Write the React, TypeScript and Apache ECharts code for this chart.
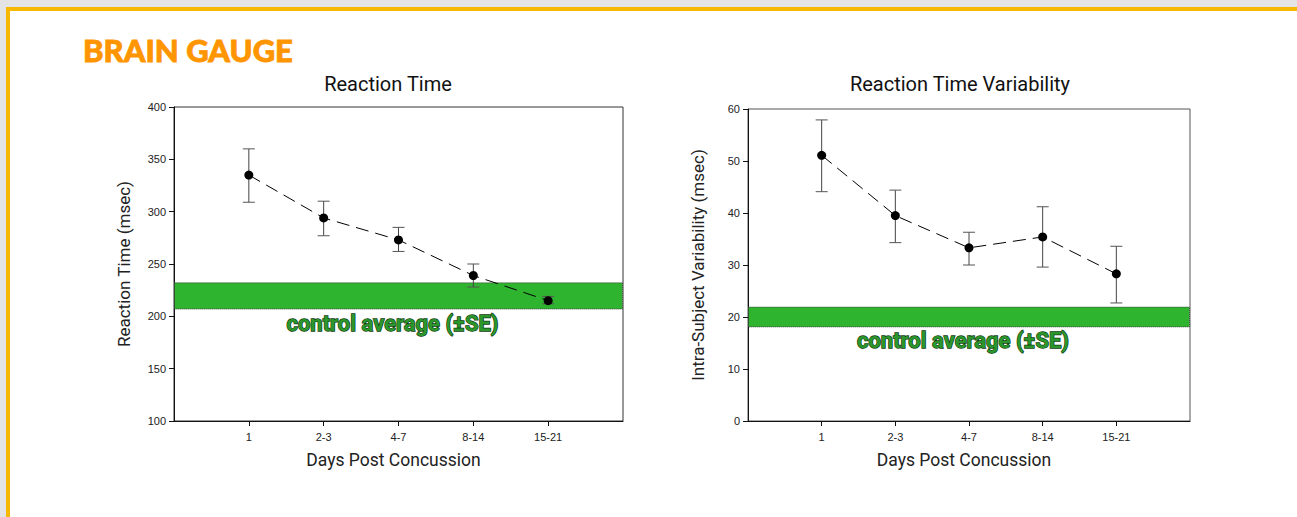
import React, { useEffect, useRef } from "react";
import * as echarts from "echarts";

const categories = ["1", "2-3", "4-7", "8-14", "15-21"];
const categoryPositions = [1, 2, 3, 4, 5];

const rtMean = [335, 294, 273, 239, 215];
const rtLow = [309, 277, 262, 228, 212];
const rtHigh = [360, 310, 285, 250, 219];
const rtControl = [207, 232];

const rtvMean = [51.1, 39.5, 33.3, 35.4, 28.3];
const rtvLow = [44.1, 34.3, 30.0, 29.6, 22.7];
const rtvHigh = [57.9, 44.4, 36.3, 41.2, 33.6];
const rtvControl = [18.1, 21.9];

const controlLabel = "control average (\u00b1SE)";

function buildErrorBars(low: number[], high: number[]) {
  return categoryPositions.map((x, i) => [x, low[i], high[i]]);
}
function buildLine(mean: number[]) {
  return categoryPositions.map((x, i) => [x, mean[i]]);
}

const errorRender = (params: any, api: any) => {
  const x = api.value(0);
  const lo = api.coord([x, api.value(1)]);
  const hi = api.coord([x, api.value(2)]);
  const cap = 6;
  const style = { stroke: "#444", lineWidth: 1 };
  return {
    type: "group",
    children: [
      { type: "line", shape: { x1: lo[0], y1: lo[1], x2: hi[0], y2: hi[1] }, style },
      { type: "line", shape: { x1: lo[0] - cap, y1: lo[1], x2: lo[0] + cap, y2: lo[1] }, style: { stroke: "#555", lineWidth: 1 } },
      { type: "line", shape: { x1: hi[0] - cap, y1: hi[1], x2: hi[0] + cap, y2: hi[1] }, style: { stroke: "#555", lineWidth: 1 } },
    ],
  };
};

const bandRender = (params: any, api: any) => {
  const c = params.coordSys;
  const top = api.coord([0, api.value(1)])[1];
  const bottom = api.coord([0, api.value(0)])[1];
  return {
    type: "group",
    children: [
      {
        type: "rect",
        shape: { x: c.x + 0.5, y: top, width: c.width - 1, height: bottom - top },
        style: { fill: "#2fb42f", stroke: "#444", lineWidth: 1, lineDash: [1, 1] },
      },
      {
        type: "text",
        x: c.x + c.width / 2 - 6,
        y: bottom + 3,
        style: {
          text: controlLabel,
          fill: "#2b962b",
          stroke: "#0f3a0f",
          lineWidth: 1.3,
          font: "bold 22px Roboto",
          align: "center",
          verticalAlign: "top",
        },
      },
    ],
  };
};

function xAxisFor(gridIndex: number) {
  return {
    type: "value",
    gridIndex,
    min: 0,
    max: 6,
    interval: 1,
    name: "Days Post Concussion",
    nameLocation: "middle",
    nameGap: 30,
    nameTextStyle: { fontFamily: "Roboto", fontSize: 17.5, color: "#222", padding: [0, 10, 0, 0] },
    axisLine: { show: true, lineStyle: { color: "#111", width: 1 } },
    axisTick: { show: true, length: 5, customValues: categoryPositions, lineStyle: { color: "#111" } },
    axisLabel: {
      customValues: categoryPositions,
      formatter: (v: number) => categories[Math.round(v) - 1] ?? "",
      fontFamily: "Liberation Sans",
      fontSize: 11,
      color: "#222",
      margin: 10,
    },
    splitLine: { show: false },
  };
}

function yAxisFor(gridIndex: number, min: number, max: number, interval: number, name: string, gap: number) {
  return {
    type: "value",
    gridIndex,
    min,
    max,
    interval,
    name,
    nameLocation: "middle",
    nameGap: gap,
    nameTextStyle: { fontFamily: "Roboto", fontSize: 17, color: "#222" },
    axisLine: { show: true, lineStyle: { color: "#111", width: 1 } },
    axisTick: { show: true, length: 5, lineStyle: { color: "#111" } },
    axisLabel: { fontFamily: "Liberation Sans", fontSize: 11, color: "#222", margin: 8 },
    splitLine: { show: false },
  };
}

export default function App() {
  const ref = useRef<HTMLDivElement>(null);
  useEffect(() => {
    if (!ref.current) return;
    const chart = echarts.init(ref.current, undefined, { renderer: "svg" });
    chart.setOption({
      animation: false,
      backgroundColor: "#ffffff",
      title: [
        {
          text: "Reaction Time",
          left: 383,
          top: 69,
          textAlign: "center",
          textStyle: { fontFamily: "Roboto", fontSize: 20, fontWeight: "normal", color: "#111" },
        },
        {
          text: "Reaction Time Variability",
          left: 955,
          top: 69,
          textAlign: "center",
          textStyle: { fontFamily: "Roboto", fontSize: 20, fontWeight: "normal", color: "#111" },
        },
      ],
      graphic: [
        { type: "rect", shape: { x: 0, y: 0, width: 1297, height: 7 }, style: { fill: "#e4e4e4" } },
        { type: "rect", shape: { x: 0, y: 0, width: 6, height: 517 }, style: { fill: "#e4e4e4" } },
        { type: "rect", shape: { x: 6, y: 7, width: 1291, height: 4 }, style: { fill: "#f6b800" } },
        { type: "rect", shape: { x: 6, y: 7, width: 4, height: 510 }, style: { fill: "#f6b800" } },
        {
          type: "text",
          x: 83,
          y: 34,
          style: {
            text: "BRAIN GAUGE",
            fill: "#ff9500",
            stroke: "#ff9500",
            lineWidth: 0.8,
            font: "900 31px Lato",
            align: "left",
            verticalAlign: "top",
          },
        },
      ],
      grid: [
        { left: 174, top: 107, width: 449, height: 314, show: true, borderColor: "#333", borderWidth: 1 },
        { left: 748, top: 109, width: 442, height: 312, show: true, borderColor: "#555", borderWidth: 1 },
      ],
      xAxis: [xAxisFor(0), xAxisFor(1)],
      yAxis: [
        yAxisFor(0, 100, 400, 50, "Reaction Time (msec)", 42),
        yAxisFor(1, 0, 60, 10, "Intra-Subject Variability (msec)", 42),
      ],
      series: [
        { type: "custom", xAxisIndex: 0, yAxisIndex: 0, z: 1, data: [rtControl], renderItem: bandRender, encode: { y: [0, 1] }, silent: true },
        { type: "custom", xAxisIndex: 1, yAxisIndex: 1, z: 1, data: [rtvControl], renderItem: bandRender, encode: { y: [0, 1] }, silent: true },
        { type: "custom", xAxisIndex: 0, yAxisIndex: 0, z: 2, data: buildErrorBars(rtLow, rtHigh), renderItem: errorRender, encode: { x: 0, y: [1, 2] } },
        { type: "custom", xAxisIndex: 1, yAxisIndex: 1, z: 2, data: buildErrorBars(rtvLow, rtvHigh), renderItem: errorRender, encode: { x: 0, y: [1, 2] } },
        {
          type: "line",
          xAxisIndex: 0,
          yAxisIndex: 0,
          z: 3,
          data: buildLine(rtMean),
          symbol: "circle",
          symbolSize: 9,
          itemStyle: { color: "#000" },
          lineStyle: { color: "#000", width: 1, type: [13, 7] },
        },
        {
          type: "line",
          xAxisIndex: 1,
          yAxisIndex: 1,
          z: 3,
          data: buildLine(rtvMean),
          symbol: "circle",
          symbolSize: 9,
          itemStyle: { color: "#000" },
          lineStyle: { color: "#000", width: 1, type: [13, 7] },
        },
      ],
    });
    return () => chart.dispose();
  }, []);
  return <div ref={ref} style={{ position: "fixed", left: 0, top: 0, width: 1297, height: 517 }} />;
}
